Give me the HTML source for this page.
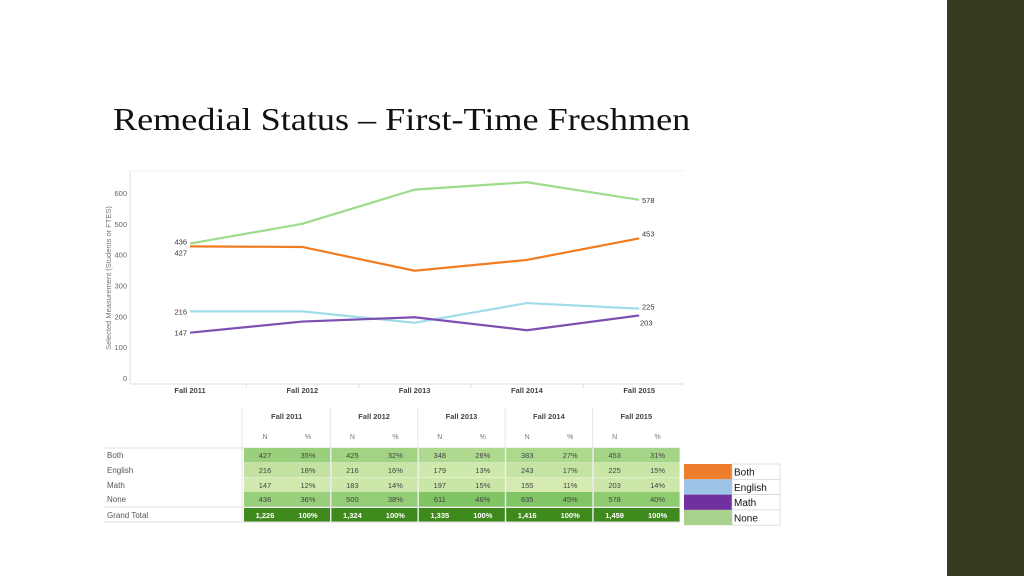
<!DOCTYPE html>
<html><head><meta charset="utf-8"><style>
body{margin:0;width:1024px;height:576px;background:#fff;position:relative;overflow:hidden;font-family:"Liberation Sans",sans-serif}
#title{position:absolute;left:113px;top:101px;font-family:"Liberation Serif",serif;font-size:32px;line-height:36px;color:#111;white-space:nowrap;transform:scaleX(1.13);transform-origin:0 0}
#sidebar{position:absolute;left:947px;top:0;width:77px;height:576px;background:#343b1f}
svg{position:absolute;left:0;top:0}
</style></head><body>
<div id="sidebar"></div>
<div id="title">Remedial Status – First-Time Freshmen</div>
<svg id="svg" width="1024" height="576"></svg>
<script>
const categories=["Fall 2011","Fall 2012","Fall 2013","Fall 2014","Fall 2015"];
const seriesNames=["Both","English","Math","None"];
const both=[427,425,348,383,453];
const english=[216,216,179,243,225];
const math=[147,183,197,155,203];
const none=[436,500,611,635,578];
const totals=[1226,1324,1335,1416,1459];
const yTicks=[0,100,200,300,400,500,600];
const colors={Both:"#f07c22",English:"#9fdde8",Math:"#7c4fb0",None:"#9ddc8a"};
const legendColors={Both:"#ef7d2e",English:"#9dc3e6",Math:"#7030a0",None:"#a9d18e"};
const NS="http://www.w3.org/2000/svg";
const svg=document.getElementById('svg');
function mk(t,a,txt){const e=document.createElementNS(NS,t);for(const k in a)e.setAttribute(k,a[k]);if(txt!==undefined)e.textContent=txt;svg.appendChild(e);return e;}
const xs=i=>190+i*112.3;
const ys=v=>378-v*0.3083;
let e=mk('line',{x1:130,y1:171,x2:130,y2:384,stroke:'#ddd'});


e=mk('line',{x1:130,y1:384,x2:684,y2:384,stroke:'#ddd'});


mk('line',{x1:130,y1:171,x2:684,y2:171,stroke:'#f0f0f0'});
yTicks.forEach(t=>{e=mk('text',{x:127,y:ys(t)+3,'text-anchor':'end','font-size':7.5,fill:'#666'},t);

});
categories.forEach((c,i)=>{e=mk('text',{x:xs(i),y:393,'text-anchor':'middle','font-size':7.5,'font-weight':'bold',fill:'#444'},c);


if(i>0)mk('line',{x1:xs(i)-56,y1:384,x2:xs(i)-56,y2:388,stroke:'#ddd'});});
e=mk('text',{x:0,y:0,transform:'translate(111,278) rotate(-90)','text-anchor':'middle','font-size':7.5,fill:'#777'},'Selected Measurement (Students or FTES)');


const data={None:none,English:english,Math:math,Both:both};
["None","English","Math","Both"].forEach(n=>{const d=data[n];
e=mk('polyline',{points:d.map((v,i)=>xs(i)+','+ys(v)).join(' '),fill:'none',stroke:colors[n],'stroke-width':2.2});

});
function lab(x,y,t,anchor){e=mk('text',{x:x,y:y,'text-anchor':anchor,'font-size':7.5,fill:'#333'},t);

}
lab(187,ys(none[0])+1,none[0],'end');lab(187,ys(both[0])+9,both[0],'end');
lab(187,ys(english[0])+3,english[0],'end');lab(187,ys(math[0])+3,math[0],'end');
lab(642,ys(none[4])+3,none[4],'start');lab(642,ys(both[4])-2,both[4],'start');
lab(642,ys(english[4])+1,english[4],'start');lab(640,ys(math[4])+10,math[4],'start');
const gx=g=>243+g*87.4;
const rowY=[448,463,478,492,507];
categories.forEach((c,g)=>{
 e=mk('text',{x:gx(g)+43.7,y:419,'text-anchor':'middle','font-size':7.5,'font-weight':'bold',fill:'#444'},c);
 
 
 mk('text',{x:gx(g)+22,y:439,'text-anchor':'middle','font-size':7,fill:'#777'},'N');
 mk('text',{x:gx(g)+65,y:439,'text-anchor':'middle','font-size':7,fill:'#777'},'%');
 if(g>0)mk('line',{x1:gx(g),y1:408,x2:gx(g),y2:522,stroke:'#e6e6e6'});
});
mk('line',{x1:242,y1:408,x2:242,y2:522,stroke:'#e6e6e6'});
mk('line',{x1:104,y1:448,x2:680,y2:448,stroke:'#e0e0e0'});
mk('line',{x1:104,y1:507,x2:680,y2:507,stroke:'#ddd'});
mk('line',{x1:104,y1:522,x2:680,y2:522,stroke:'#ddd'});
const rows=[["Both",both],["English",english],["Math",math],["None",none]];
function cellColor(p){const t=Math.min(1,Math.max(0,(p-10)/36));const r=Math.round(214-t*(214-128)),g=Math.round(235-t*(235-196)),b=Math.round(178-t*(178-100));return `rgb(${r},${g},${b})`;}
rows.forEach(([n,d],r)=>{
 e=mk('text',{x:107,y:rowY[r]+10,'font-size':8,fill:'#555'},n);
 
 
 d.forEach((v,g)=>{const p=Math.round(v/totals[g]*100);
  e=mk('rect',{x:gx(g)+1,y:rowY[r],width:86,height:14.6,fill:cellColor(p)});
  
  
  mk('text',{x:gx(g)+22,y:rowY[r]+10,'text-anchor':'middle','font-size':7.5,fill:'#444'},v);
  mk('text',{x:gx(g)+65,y:rowY[r]+10,'text-anchor':'middle','font-size':7.5,fill:'#444'},p+'%');});
});
e=mk('text',{x:107,y:518,'font-size':8,fill:'#555'},'Grand Total');


totals.forEach((v,g)=>{
 e=mk('rect',{x:gx(g)+1,y:508,width:86,height:13.5,fill:'#3f8a1c'});
 
 
 mk('text',{x:gx(g)+22,y:518,'text-anchor':'middle','font-size':7.5,'font-weight':'bold',fill:'#fff'},v.toLocaleString('en-US'));
 mk('text',{x:gx(g)+65,y:518,'text-anchor':'middle','font-size':7.5,'font-weight':'bold',fill:'#fff'},'100%');});
seriesNames.forEach((n,i)=>{const y=464+i*15.3;
 e=mk('rect',{x:684,y:y,width:48,height:15.3,fill:legendColors[n]});
 
 
 mk('rect',{x:732,y:y,width:48,height:15.3,fill:'#fff',stroke:'#ccc','stroke-width':0.6});
 e=mk('text',{x:734,y:y+11.5,'font-size':10,fill:'#111'},n);
 
 });
</script>
</body></html>
